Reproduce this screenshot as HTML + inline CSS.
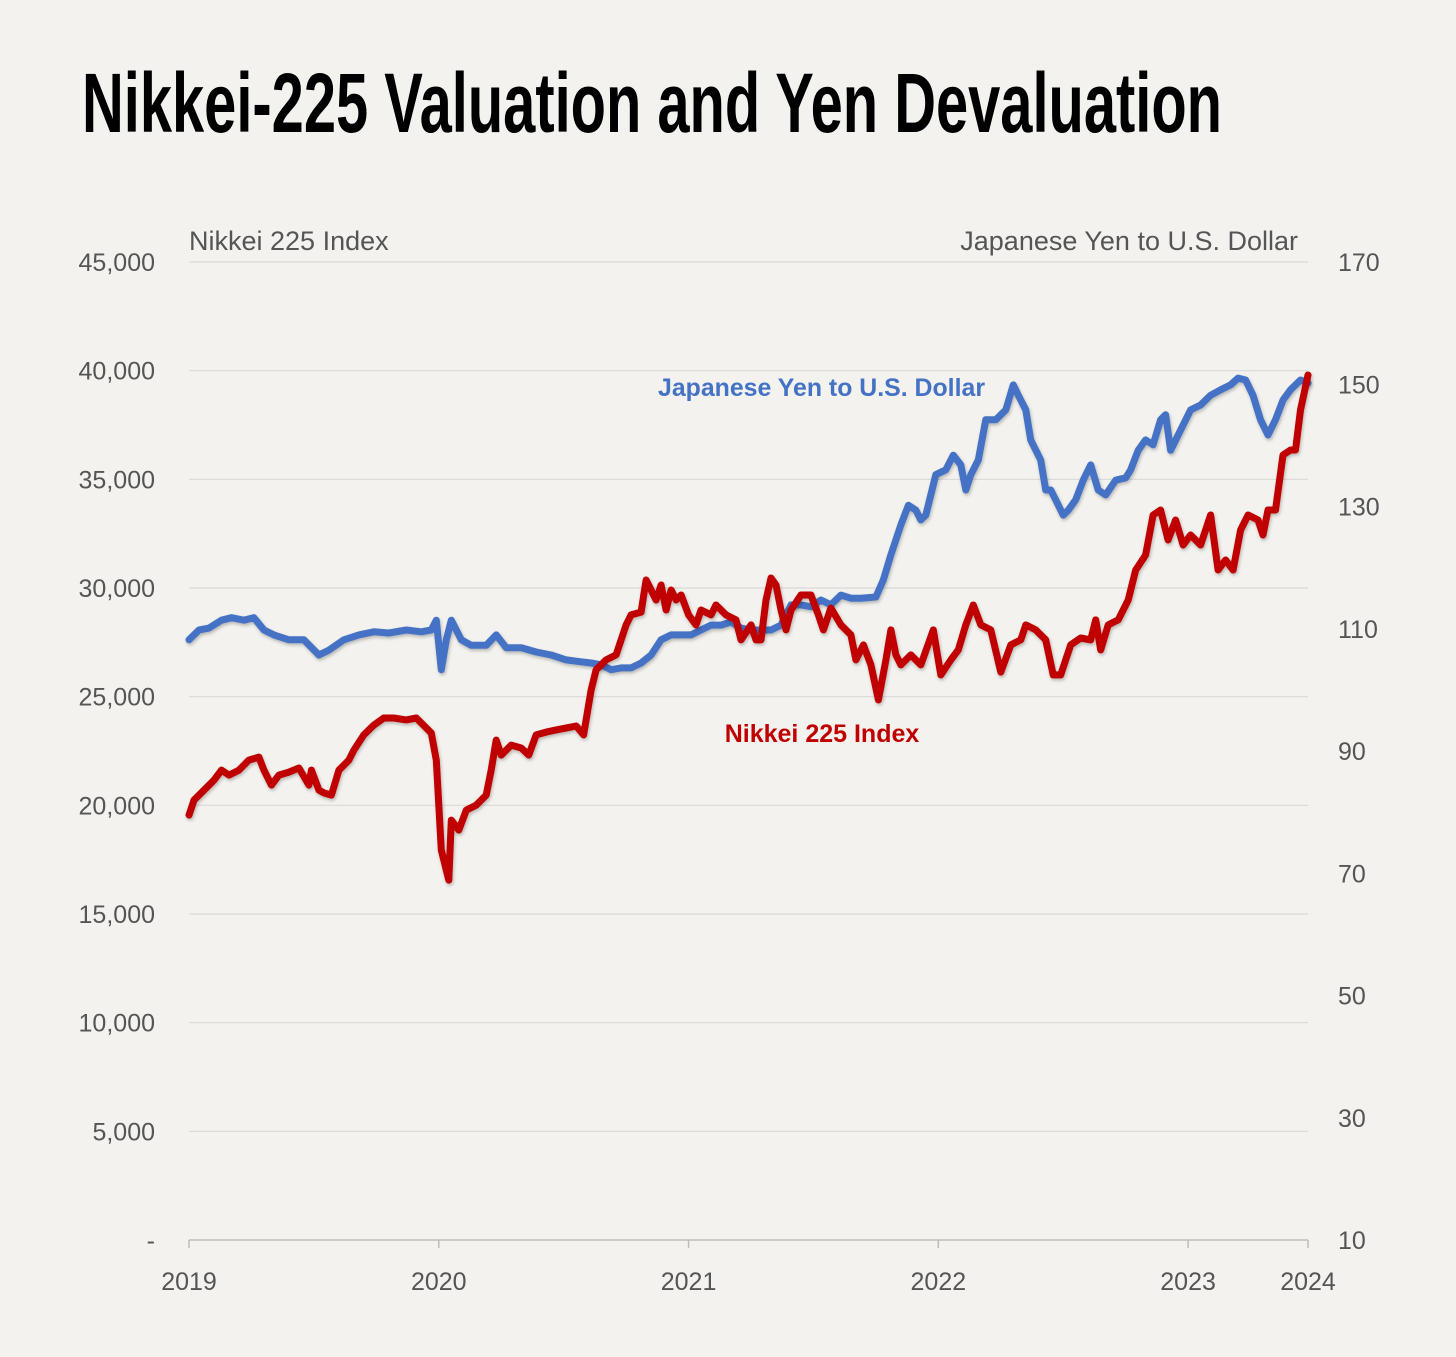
<!DOCTYPE html>
<html><head><meta charset="utf-8"><style>
html,body{margin:0;padding:0;background:#f3f2ee;}
svg{display:block;font-family:"Liberation Sans",sans-serif;}
</style></head><body>
<svg id="chart" width="1456" height="1357" viewBox="0 0 1456 1357" xmlns="http://www.w3.org/2000/svg">
<defs><filter id="sh" x="-5%" y="-5%" width="110%" height="110%"><feDropShadow dx="1" dy="2" stdDeviation="1.5" flood-color="#000" flood-opacity="0.25"/></filter></defs>
<rect width="1456" height="1357" fill="#f3f2ee"/>
<text x="82" y="132" font-family="'Liberation Sans Narrow','Liberation Sans',sans-serif" font-weight="bold" font-size="84" textLength="1140" lengthAdjust="spacingAndGlyphs" fill="#000">Nikkei-225 Valuation and Yen Devaluation</text>
<text x="189" y="250" font-size="27" fill="#555">Nikkei 225 Index</text>
<text x="1298" y="250" font-size="27" fill="#555" text-anchor="end">Japanese Yen to U.S. Dollar</text>
<g id="grid"></g>
<g id="axes"></g>
<g id="series"></g>
<text x="658" y="396" font-size="25" font-weight="bold" fill="#4472c4" textLength="327" lengthAdjust="spacingAndGlyphs">Japanese Yen to U.S. Dollar</text>
<text x="822" y="742" font-size="25" font-weight="bold" fill="#c00000" text-anchor="middle">Nikkei 225 Index</text>
</svg>
<script>
const leftTicks=[0,5000,10000,15000,20000,25000,30000,35000,40000,45000];
const leftTickLabels=["-","5,000","10,000","15,000","20,000","25,000","30,000","35,000","40,000","45,000"];
const rightTicks=[10,30,50,70,90,110,130,150,170];
const xTicks=[2019,2020,2021,2022,2023,2023.48];
const xTickLabels=["2019","2020","2021","2022","2023","2024"];
const nikkeiDates=[2019.00,2019.02,2019.06,2019.10,2019.13,2019.16,2019.20,2019.24,2019.28,2019.30,2019.33,2019.36,2019.40,2019.44,2019.48,2019.49,2019.52,2019.54,2019.57,2019.60,2019.64,2019.66,2019.70,2019.74,2019.78,2019.82,2019.87,2019.91,2019.95,2019.97,2019.99,2020.01,2020.04,2020.05,2020.08,2020.11,2020.15,2020.19,2020.21,2020.23,2020.25,2020.29,2020.33,2020.36,2020.39,2020.43,2020.47,2020.51,2020.55,2020.58,2020.61,2020.63,2020.67,2020.71,2020.75,2020.77,2020.81,2020.83,2020.85,2020.87,2020.89,2020.91,2020.93,2020.95,2020.97,2021.00,2021.03,2021.05,2021.09,2021.11,2021.15,2021.19,2021.21,2021.25,2021.27,2021.29,2021.31,2021.33,2021.35,2021.37,2021.39,2021.41,2021.45,2021.49,2021.52,2021.54,2021.57,2021.61,2021.65,2021.67,2021.70,2021.73,2021.76,2021.79,2021.81,2021.83,2021.85,2021.89,2021.93,2021.98,2022.01,2022.05,2022.08,2022.11,2022.14,2022.17,2022.21,2022.25,2022.29,2022.33,2022.35,2022.39,2022.43,2022.46,2022.49,2022.53,2022.57,2022.61,2022.63,2022.65,2022.68,2022.72,2022.76,2022.79,2022.83,2022.86,2022.89,2022.92,2022.95,2022.98,2023.01,2023.05,2023.09,2023.12,2023.15,2023.18,2023.21,2023.24,2023.28,2023.30,2023.32,2023.35,2023.38,2023.41,2023.43,2023.45,2023.48];
const nikkeiValues=[19550,20240,20700,21160,21620,21390,21620,22080,22220,21620,20930,21390,21530,21720,20930,21620,20700,20570,20470,21620,22080,22540,23240,23690,24020,24020,23930,24020,23560,23330,22080,17940,16560,19320,18860,19780,20010,20470,21620,23000,22310,22770,22640,22310,23240,23370,23470,23560,23650,23240,25300,26230,26690,26920,28300,28760,28890,30370,29910,29450,30140,28990,29910,29450,29680,28760,28300,28990,28760,29220,28760,28530,27610,28300,27610,27610,29450,30460,30140,28990,28070,28990,29680,29680,28760,28070,29080,28300,27840,26690,27380,26460,24850,26690,28070,26920,26460,26920,26460,28070,26000,26690,27150,28300,29220,28300,28070,26130,27380,27610,28300,28070,27610,26000,26000,27380,27700,27610,28530,27150,28300,28530,29450,30830,31520,33360,33590,32210,33130,31980,32440,31980,33360,30830,31290,30830,32670,33360,33130,32440,33590,33590,36120,36350,36350,38190,39800];
const yenDates=[2019.00,2019.04,2019.08,2019.13,2019.17,2019.22,2019.26,2019.30,2019.34,2019.40,2019.46,2019.52,2019.56,2019.62,2019.68,2019.74,2019.80,2019.87,2019.93,2019.97,2019.99,2020.01,2020.03,2020.05,2020.09,2020.13,2020.19,2020.23,2020.27,2020.33,2020.39,2020.45,2020.51,2020.57,2020.61,2020.65,2020.69,2020.73,2020.77,2020.81,2020.85,2020.89,2020.93,2020.97,2021.01,2021.05,2021.09,2021.13,2021.17,2021.21,2021.25,2021.29,2021.33,2021.37,2021.41,2021.45,2021.49,2021.53,2021.57,2021.61,2021.65,2021.69,2021.75,2021.78,2021.81,2021.85,2021.88,2021.91,2021.93,2021.95,2021.97,2021.99,2022.03,2022.06,2022.09,2022.11,2022.13,2022.16,2022.19,2022.23,2022.27,2022.30,2022.32,2022.35,2022.37,2022.41,2022.43,2022.45,2022.47,2022.50,2022.52,2022.55,2022.58,2022.61,2022.64,2022.67,2022.71,2022.75,2022.77,2022.80,2022.83,2022.86,2022.89,2022.91,2022.93,2022.97,2023.01,2023.05,2023.09,2023.13,2023.17,2023.20,2023.23,2023.26,2023.29,2023.32,2023.35,2023.38,2023.41,2023.45,2023.48];
const yenValues=[108.2,109.8,110.1,111.4,111.8,111.4,111.8,109.8,109.0,108.2,108.2,105.7,106.5,108.2,109.0,109.5,109.3,109.8,109.5,109.8,111.4,103.3,108.2,111.4,108.2,107.3,107.3,109.0,106.9,106.9,106.2,105.7,104.9,104.6,104.4,104.1,103.3,103.6,103.6,104.4,105.7,108.2,109.0,109.0,109.0,109.8,110.6,110.6,111.1,110.1,109.8,109.8,109.8,110.6,113.9,113.9,113.6,114.7,113.9,115.5,115.0,115.0,115.2,118.0,122.1,127.0,130.2,129.4,127.8,128.6,131.9,135.2,136.0,138.4,136.8,132.7,135.2,137.6,144.2,144.2,145.8,149.9,148.2,145.8,140.9,137.6,132.7,132.7,131.1,128.6,129.4,131.1,134.3,136.8,132.7,131.9,134.3,134.7,136.0,139.2,140.9,140.1,144.2,145.0,139.2,142.5,145.8,146.6,148.2,149.1,149.9,151.0,150.7,148.2,144.2,141.7,144.2,147.4,149.1,150.7,150.2];

const X0=189,X1=1308,T0=2019,T1=2023.48;
const YB=1240,YT=262;
function xs(t){return X0+(t-T0)/(T1-T0)*(X1-X0);}
function yl(v){return YB-v/45000*(YB-YT);}
function yr(v){return YB-(v-10)/160*(YB-YT);}
const NS='http://www.w3.org/2000/svg';
function mk(tag,attrs,parent,text){const e=document.createElementNS(NS,tag);for(const k in attrs)e.setAttribute(k,attrs[k]);if(text!==undefined)e.textContent=text;parent.appendChild(e);return e;}
const grid=document.getElementById('grid'),axes=document.getElementById('axes'),series=document.getElementById('series');
leftTicks.forEach((v,i)=>{
  const y=yl(v);
  if(v>0){const g=mk('line',{x1:X0,x2:X1,y1:y,y2:y,stroke:'#d9d8d4','stroke-width':1.2},grid);
  
  }
  const t=mk('text',{x:155,y:y+9,'font-size':25,fill:'#555','text-anchor':'end'},axes,leftTickLabels[i]);
  
  
});
rightTicks.forEach(v=>{
  const t=mk('text',{x:1338,y:yr(v)+9,'font-size':25,fill:'#555'},axes,String(v));
  
  
});
const ax=mk('line',{x1:X0,x2:X1,y1:YB,y2:YB,stroke:'#bdbcb8','stroke-width':1.5},axes);


xTicks.forEach((t,i)=>{
  const x=xs(t);
  const tk=mk('line',{x1:x,x2:x,y1:YB,y2:YB+8,stroke:'#bdbcb8','stroke-width':1.5},axes);
  
  
  const lb=mk('text',{x:x,y:1290,'font-size':25,fill:'#555','text-anchor':'middle'},axes,xTickLabels[i]);
  
  
});
function path(dates,vals,yf){return dates.map((d,i)=>(i?'L':'M')+xs(d).toFixed(1)+','+yf(vals[i]).toFixed(1)).join(' ');}
const yp=mk('path',{d:path(yenDates,yenValues,yr),fill:'none',stroke:'#4472c4','stroke-width':7,'stroke-linejoin':'round','stroke-linecap':'round',filter:'url(#sh)'},series);


const np=mk('path',{d:path(nikkeiDates,nikkeiValues,yl),fill:'none',stroke:'#c00000','stroke-width':7,'stroke-linejoin':'round','stroke-linecap':'round',filter:'url(#sh)'},series);


</script>
</body></html>
